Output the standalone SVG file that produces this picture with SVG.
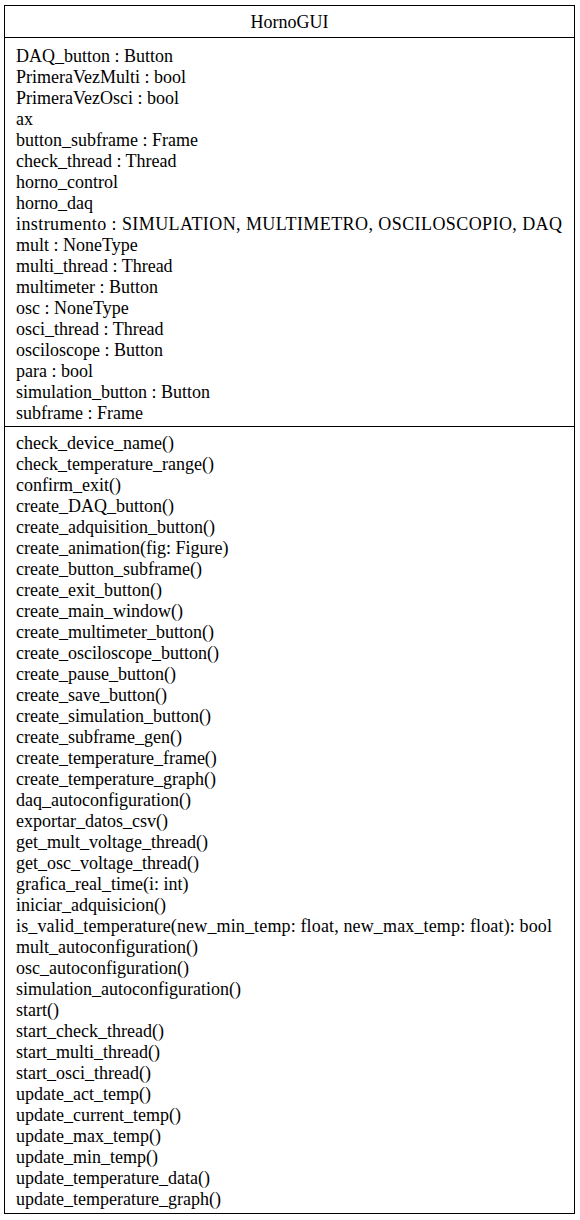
<svg xmlns="http://www.w3.org/2000/svg" width="580" height="1220" viewBox="0 0 580 1220">
<style>
.box{fill:#fff;stroke:#000;stroke-width:1}
.sep{stroke:#000;stroke-width:1}
text{font-family:"Liberation Serif","Times New Roman",serif;font-size:18px;fill:#000}
.title{text-anchor:middle}
</style>
<rect width="580" height="1220" fill="#fff"/>
<g id="HornoGUI">
<rect class="box" x="4.5" y="5.5" width="570" height="1208"/>
<line class="sep" x1="4.5" y1="37.5" x2="574.5" y2="37.5"/>
<line class="sep" x1="4.5" y1="426.5" x2="574.5" y2="426.5"/>
<text class="title" x="289.5" y="28">HornoGUI</text>
<g id="attributes">
<text x="16" y="62">DAQ_button : Button</text>
<text x="16" y="83">PrimeraVezMulti : bool</text>
<text x="16" y="104">PrimeraVezOsci : bool</text>
<text x="16" y="125">ax</text>
<text x="16" y="146">button_subframe : Frame</text>
<text x="16" y="167">check_thread : Thread</text>
<text x="16" y="188">horno_control</text>
<text x="16" y="209">horno_daq</text>
<text x="16" y="230" textLength="546" lengthAdjust="spacing">instrumento : SIMULATION, MULTIMETRO, OSCILOSCOPIO, DAQ</text>
<text x="16" y="251">mult : NoneType</text>
<text x="16" y="272">multi_thread : Thread</text>
<text x="16" y="293">multimeter : Button</text>
<text x="16" y="314">osc : NoneType</text>
<text x="16" y="335">osci_thread : Thread</text>
<text x="16" y="356">osciloscope : Button</text>
<text x="16" y="377">para : bool</text>
<text x="16" y="398">simulation_button : Button</text>
<text x="16" y="419">subframe : Frame</text>
</g>
<g id="operations">
<text x="16" y="449">check_device_name()</text>
<text x="16" y="470">check_temperature_range()</text>
<text x="16" y="491">confirm_exit()</text>
<text x="16" y="512">create_DAQ_button()</text>
<text x="16" y="533">create_adquisition_button()</text>
<text x="16" y="554">create_animation(fig: Figure)</text>
<text x="16" y="575">create_button_subframe()</text>
<text x="16" y="596">create_exit_button()</text>
<text x="16" y="617">create_main_window()</text>
<text x="16" y="638">create_multimeter_button()</text>
<text x="16" y="659">create_osciloscope_button()</text>
<text x="16" y="680">create_pause_button()</text>
<text x="16" y="701">create_save_button()</text>
<text x="16" y="722">create_simulation_button()</text>
<text x="16" y="743">create_subframe_gen()</text>
<text x="16" y="764">create_temperature_frame()</text>
<text x="16" y="785">create_temperature_graph()</text>
<text x="16" y="806">daq_autoconfiguration()</text>
<text x="16" y="827">exportar_datos_csv()</text>
<text x="16" y="848">get_mult_voltage_thread()</text>
<text x="16" y="869">get_osc_voltage_thread()</text>
<text x="16" y="890">grafica_real_time(i: int)</text>
<text x="16" y="911">iniciar_adquisicion()</text>
<text x="16" y="932" textLength="536" lengthAdjust="spacing">is_valid_temperature(new_min_temp: float, new_max_temp: float): bool</text>
<text x="16" y="953">mult_autoconfiguration()</text>
<text x="16" y="974">osc_autoconfiguration()</text>
<text x="16" y="995">simulation_autoconfiguration()</text>
<text x="16" y="1016">start()</text>
<text x="16" y="1037">start_check_thread()</text>
<text x="16" y="1058">start_multi_thread()</text>
<text x="16" y="1079">start_osci_thread()</text>
<text x="16" y="1100">update_act_temp()</text>
<text x="16" y="1121">update_current_temp()</text>
<text x="16" y="1142">update_max_temp()</text>
<text x="16" y="1163">update_min_temp()</text>
<text x="16" y="1184">update_temperature_data()</text>
<text x="16" y="1205">update_temperature_graph()</text>
</g>
</g>
</svg>
